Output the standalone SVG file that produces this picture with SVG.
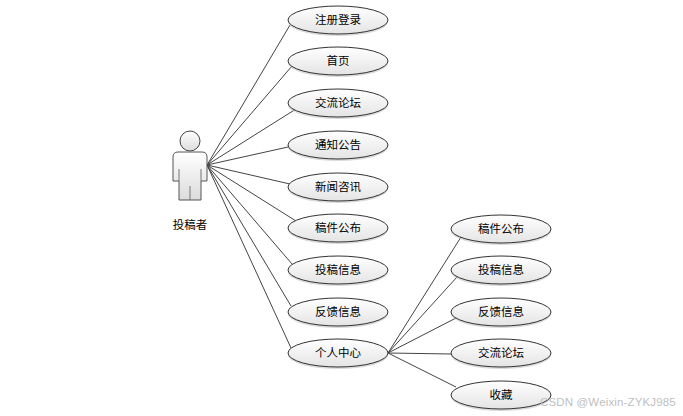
<svg xmlns="http://www.w3.org/2000/svg" width="683" height="416" viewBox="0 0 683 416">
<style>
.uc{fill:url(#g);stroke:#333;stroke-width:1}
.sh{fill:#bbb;opacity:.55}
.l{font:11.5px "Noto Sans CJK SC","Liberation Sans",sans-serif;text-anchor:middle;fill:#000}
#connectors line{stroke:#444;stroke-width:1}
</style>
<defs>
<linearGradient id="g" x1="0" y1="0" x2="0" y2="1"><stop offset="0" stop-color="#fff"/><stop offset="1" stop-color="#e4e4e4"/></linearGradient>
<linearGradient id="b" x1="0" y1="0" x2="0" y2="1"><stop offset="0" stop-color="#fff"/><stop offset="1" stop-color="#dcdcdc"/></linearGradient>
</defs>
<rect width="683" height="416" fill="#fff"/>
<g id="connectors">
<line x1="207" y1="165" x2="290" y2="25"/>
<line x1="207" y1="165" x2="292" y2="66"/>
<line x1="207" y1="165" x2="296" y2="109"/>
<line x1="207" y1="165" x2="288" y2="147"/>
<line x1="207" y1="165" x2="290" y2="184"/>
<line x1="207" y1="165" x2="296" y2="221"/>
<line x1="207" y1="165" x2="292" y2="264"/>
<line x1="207" y1="165" x2="291" y2="306"/>
<line x1="207" y1="165" x2="291" y2="348"/>
<line x1="388" y1="353" x2="461" y2="237"/>
<line x1="388" y1="353" x2="457" y2="277"/>
<line x1="388" y1="353" x2="456" y2="318"/>
<line x1="388" y1="353" x2="451" y2="354"/>
<line x1="388" y1="353" x2="456" y2="387"/>
</g>
<g id="actor">
<circle cx="190" cy="141" r="10" fill="url(#b)" stroke="#444"/>
<path d="M178 152H202Q207 152 207 157V181H201V200H179V181H173V157Q173 152 178 152Z" fill="url(#b)" stroke="#555"/>
<path d="M179 169V181M201 169V181M190 186V200" fill="none" stroke="#777"/>
<text class="l" x="190" y="229">投稿者</text>
</g>
<g id="n1"><ellipse class="sh" cx="338" cy="22" rx="50" ry="14"/><ellipse class="uc" cx="338" cy="20" rx="50" ry="14"/><text class="l" x="338" y="24">注册登录</text></g>
<g id="n2"><ellipse class="sh" cx="338" cy="63" rx="50" ry="14"/><ellipse class="uc" cx="338" cy="61" rx="50" ry="14"/><text class="l" x="338" y="65">首页</text></g>
<g id="n3"><ellipse class="sh" cx="338" cy="105" rx="50" ry="14"/><ellipse class="uc" cx="338" cy="103" rx="50" ry="14"/><text class="l" x="338" y="107">交流论坛</text></g>
<g id="n4"><ellipse class="sh" cx="338" cy="147" rx="50" ry="14"/><ellipse class="uc" cx="338" cy="145" rx="50" ry="14"/><text class="l" x="338" y="149">通知公告</text></g>
<g id="n5"><ellipse class="sh" cx="338" cy="189" rx="50" ry="14"/><ellipse class="uc" cx="338" cy="187" rx="50" ry="14"/><text class="l" x="338" y="191">新闻咨讯</text></g>
<g id="n6"><ellipse class="sh" cx="338" cy="230" rx="50" ry="14"/><ellipse class="uc" cx="338" cy="228" rx="50" ry="14"/><text class="l" x="338" y="232">稿件公布</text></g>
<g id="n7"><ellipse class="sh" cx="338" cy="272" rx="50" ry="14"/><ellipse class="uc" cx="338" cy="270" rx="50" ry="14"/><text class="l" x="338" y="274">投稿信息</text></g>
<g id="n8"><ellipse class="sh" cx="338" cy="314" rx="50" ry="14"/><ellipse class="uc" cx="338" cy="312" rx="50" ry="14"/><text class="l" x="338" y="316">反馈信息</text></g>
<g id="n9"><ellipse class="sh" cx="338" cy="355" rx="50" ry="14"/><ellipse class="uc" cx="338" cy="353" rx="50" ry="14"/><text class="l" x="338" y="357">个人中心</text></g>
<g id="n10"><ellipse class="sh" cx="501" cy="231" rx="50" ry="14"/><ellipse class="uc" cx="501" cy="229" rx="50" ry="14"/><text class="l" x="501" y="233">稿件公布</text></g>
<g id="n11"><ellipse class="sh" cx="501" cy="272" rx="50" ry="14"/><ellipse class="uc" cx="501" cy="270" rx="50" ry="14"/><text class="l" x="501" y="274">投稿信息</text></g>
<g id="n12"><ellipse class="sh" cx="501" cy="314" rx="50" ry="14"/><ellipse class="uc" cx="501" cy="312" rx="50" ry="14"/><text class="l" x="501" y="316">反馈信息</text></g>
<g id="n13"><ellipse class="sh" cx="501" cy="355" rx="50" ry="14"/><ellipse class="uc" cx="501" cy="353" rx="50" ry="14"/><text class="l" x="501" y="357">交流论坛</text></g>
<g id="n14"><ellipse class="sh" cx="501" cy="397" rx="50" ry="14"/><ellipse class="uc" cx="501" cy="395" rx="50" ry="14"/><text class="l" x="501" y="399">收藏</text></g>
<text x="540" y="406" font-family="'Liberation Sans',sans-serif" font-size="11.5" letter-spacing=".15" fill="#c0c0c0">CSDN @Weixin-ZYKJ985</text>
</svg>
